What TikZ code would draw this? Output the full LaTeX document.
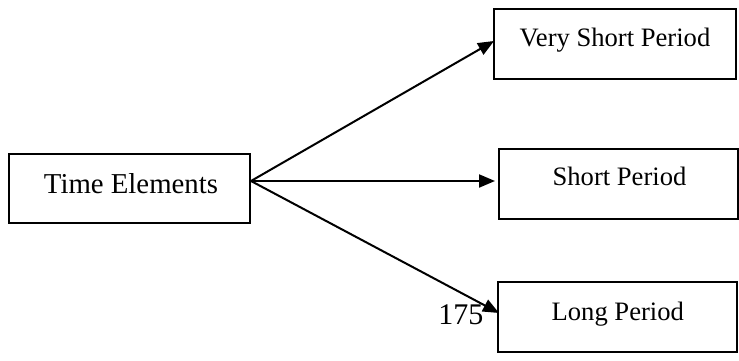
\documentclass[tikz,border=0pt]{standalone}
\usepackage{fontspec}
\setmainfont{Liberation Serif}
\usetikzlibrary{arrows.meta}
\begin{document}
\begin{tikzpicture}[x=1pt,y=-1pt,
  box/.style={draw,line width=1.7pt,inner sep=0pt},
  lbl/.style={anchor=base,inner sep=0pt,font=\fontsize{26.6}{30}\selectfont},
  conn/.style={line width=2pt,-{Triangle[length=16pt,width=13pt]}}]
\useasboundingbox (0,0) rectangle (739,361);
% boxes
\node[box,minimum width=241pt,minimum height=69pt] (te) at (129.5,188.5) {};
\node[box,minimum width=242pt,minimum height=70pt] (vsp) at (615,44) {};
\node[box,minimum width=239pt,minimum height=70pt] (sp) at (618.5,184) {};
\node[box,minimum width=239pt,minimum height=70pt] (lp) at (617.5,317) {};
% labels
\node[lbl,font=\fontsize{28.8}{32}\selectfont] (tet) at (131,193) {Time Elements};
\node[lbl] (vspt) at (615,46.7) {Very Short Period};
\node[lbl] (spt) at (619.5,185) {Short Period};
\node[lbl] (lpt) at (617.8,320) {Long Period};
\node[lbl,font=\fontsize{30}{34}\selectfont] (pg) at (460.8,324) {175};
% connectors
\coordinate (o) at (251,181);
\coordinate (t1) at (494,41);
\coordinate (t2) at (495,181);
\coordinate (t3) at (499,313);
\draw[conn] (o) -- (t1);
\draw[conn] (o) -- (t2);
\draw[conn] (o) -- (t3);
\end{tikzpicture}
\end{document}
